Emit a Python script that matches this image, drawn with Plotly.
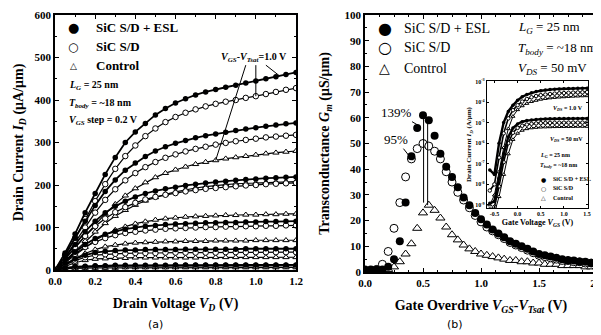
import plotly.graph_objects as go

# ---------------- Panel (a): Id - Vd ----------------
vd = [0.0, 0.05, 0.1, 0.15, 0.2, 0.25, 0.3, 0.35, 0.4, 0.45, 0.5, 0.55, 0.6,
      0.65, 0.7, 0.75, 0.8, 0.85, 0.9, 0.95, 1.0, 1.05, 1.1, 1.15, 1.2]

id_esl_10 = [0, 40, 85, 135, 180, 225, 265, 300, 325, 345, 365, 380, 393, 403, 412, 419, 425, 430, 435, 440, 445, 450, 455, 460, 465]
id_sic_10 = [0, 35, 75, 120, 162, 202, 238, 268, 293, 315, 333, 348, 360, 370, 378, 385, 391, 396, 400, 405, 409, 414, 419, 424, 428]
id_ctl_10 = [0, 25, 52, 80, 107, 132, 155, 175, 192, 206, 218, 228, 236, 243, 249, 254, 258, 262, 265, 268, 271, 274, 276, 278, 280]

id_esl_08 = [0, 35, 75, 115, 152, 185, 212, 235, 252, 267, 280, 290, 298, 305, 311, 316, 320, 324, 328, 332, 335, 338, 341, 344, 346]
id_sic_08 = [0, 30, 65, 100, 135, 165, 190, 211, 228, 242, 254, 264, 272, 279, 285, 290, 295, 299, 303, 306, 309, 312, 314, 316, 318]
id_ctl_08 = [0, 22, 45, 68, 90, 110, 127, 141, 153, 163, 171, 178, 184, 189, 193, 196, 199, 201, 203, 204, 205, 206, 207, 208, 208]

id_esl_06 = [0, 30, 60, 90, 115, 135, 150, 162, 172, 180, 186, 191, 195, 199, 202, 205, 207, 209, 211, 213, 214, 216, 217, 218, 219]
id_sic_06 = [0, 27, 54, 80, 103, 121, 136, 148, 158, 166, 172, 177, 181, 185, 188, 191, 193, 195, 197, 199, 200, 202, 203, 204, 205]
id_ctl_06 = [0, 18, 36, 54, 70, 83, 94, 102, 109, 114, 118, 121, 123, 125, 126, 127, 128, 129, 129, 130, 130, 131, 131, 132, 132]

id_esl_04 = [0, 22, 42, 60, 74, 84, 91, 96, 100, 103, 105, 107, 108, 109, 110, 111, 111, 112, 112, 113, 113, 114, 114, 115, 115]
id_sic_04 = [0, 20, 38, 54, 66, 75, 82, 87, 90, 93, 95, 97, 98, 99, 100, 101, 101, 102, 102, 103, 103, 104, 104, 105, 105]
id_ctl_04 = [0, 14, 27, 39, 48, 55, 59, 62, 64, 65, 66, 67, 67, 68, 68, 68, 69, 69, 69, 69, 70, 70, 70, 70, 70]

id_esl_02 = [0, 14, 26, 35, 41, 44, 46, 47, 47, 48, 48, 48, 48, 49, 49, 49, 49, 49, 49, 50, 50, 50, 50, 50, 50]
id_sic_02 = [0, 12, 22, 30, 35, 37, 38, 39, 40, 40, 40, 41, 41, 41, 41, 41, 41, 42, 42, 42, 42, 42, 42, 42, 42]
id_ctl_02 = [0, 9, 17, 23, 26, 27, 28, 28, 29, 29, 29, 29, 29, 29, 29, 30, 30, 30, 30, 30, 30, 30, 30, 30, 30]

id_esl_00 = [0, 5, 8, 9, 10, 10, 11, 11, 11, 11, 11, 11, 12, 12, 12, 12, 12, 12, 12, 12, 12, 12, 12, 12, 12]
id_sic_00 = [0, 4, 6, 7, 8, 8, 9, 9, 9, 9, 9, 9, 10, 10, 10, 10, 10, 10, 10, 10, 10, 10, 10, 10, 10]
id_ctl_00 = [0, 3, 4, 5, 5, 5, 5, 6, 6, 6, 6, 6, 6, 6, 6, 6, 6, 6, 6, 6, 6, 6, 6, 6, 6]

# ---------------- Panel (b): Gm ----------------
vov = [0.0, 0.05, 0.1, 0.15, 0.2, 0.25, 0.3, 0.35, 0.4, 0.45, 0.5, 0.55, 0.6, 0.65, 0.7,
       0.75, 0.8, 0.85, 0.9, 0.95, 1.0, 1.05, 1.1, 1.15, 1.2, 1.25, 1.3, 1.35, 1.4, 1.45,
       1.5, 1.55, 1.6, 1.65, 1.7, 1.75, 1.8, 1.85, 1.9, 1.95, 2.0]
gm_esl = [1, 1, 1, 1, 2, 5, 12, 27, 45, 56, 61, 59, 53, 46, 41, 37, 33, 29, 26, 23, 20.5,
          18.5, 16.5, 15, 13.5, 12, 11, 10, 9, 8, 7, 6.5, 6, 5.5, 5, 4.5, 4.5, 4, 4, 3.5, 3.5]
gm_sic = [0.5, 0.5, 1, 3, 8, 17, 27, 37, 44, 48, 50, 49, 47, 44, 39, 35, 31, 28, 25, 22, 19.5,
          17.5, 16, 14.5, 13, 11.5, 10.5, 9.5, 8.5, 7.5, 6.5, 6, 5.5, 5, 4.5, 4.5, 4, 4, 3.5, 3.5, 3]
gm_ctl = [0.5, 0.5, 0.5, 0.5, 1, 2, 4, 7, 11, 17, 23, 26, 24, 21, 17.5, 14.5, 12.5, 10.5, 9, 8, 7,
          6.5, 6, 5.5, 5, 4.5, 4.5, 4, 4, 3.5, 3.5, 3, 3, 3, 2.5, 2.5, 2.5, 2.5, 2, 2, 2]

# ---------------- Inset: Id - Vg (A/um) ----------------
vg = [-0.6, -0.5, -0.4, -0.3, -0.2, -0.1, 0.0, 0.1, 0.2, 0.3, 0.4, 0.5, 0.6, 0.7, 0.8,
      0.9, 1.0, 1.1, 1.2, 1.3, 1.4, 1.5]
ins_esl_hi = [5e-8, 3e-8, 1e-6, 1e-5, 3.5e-5, 7e-5, 1.2e-4, 1.8e-4, 2.3e-4, 2.8e-4, 3.2e-4,
              3.5e-4, 3.8e-4, 4.0e-4, 4.2e-4, 4.3e-4, 4.4e-4, 4.5e-4, 4.55e-4, 4.6e-4, 4.65e-4, 4.7e-4]
ins_sic_hi = [5e-9, 1e-8, 2e-7, 3e-6, 1.6e-5, 4e-5, 7e-5, 1.05e-4, 1.4e-4, 1.7e-4, 1.95e-4,
              2.15e-4, 2.3e-4, 2.45e-4, 2.55e-4, 2.65e-4, 2.72e-4, 2.8e-4, 2.86e-4, 2.92e-4, 2.96e-4, 3.0e-4]
ins_ctl_hi = [1e-9, 3e-9, 4e-8, 6e-7, 5e-6, 2e-5, 4.2e-5, 6.5e-5, 8.5e-5, 1.05e-4, 1.2e-4,
              1.35e-4, 1.47e-4, 1.57e-4, 1.65e-4, 1.72e-4, 1.78e-4, 1.84e-4, 1.89e-4, 1.93e-4, 1.97e-4, 2.0e-4]
ins_esl_lo = [1.2e-9, 1.5e-9, 2e-8, 3e-7, 2e-6, 5.5e-6, 8.5e-6, 1.1e-5, 1.25e-5, 1.35e-5, 1.42e-5,
              1.47e-5, 1.5e-5, 1.52e-5, 1.54e-5, 1.56e-5, 1.57e-5, 1.58e-5, 1.59e-5, 1.6e-5, 1.6e-5, 1.6e-5]
ins_sic_lo = [6e-10, 8e-10, 8e-9, 1.2e-7, 1e-6, 3.2e-6, 5.5e-6, 7e-6, 8e-6, 8.7e-6, 9.1e-6,
              9.4e-6, 9.6e-6, 9.7e-6, 9.8e-6, 9.85e-6, 9.9e-6, 9.95e-6, 1.0e-5, 1.0e-5, 1.0e-5, 1.0e-5]
ins_ctl_lo = [3e-10, 4e-10, 2.5e-9, 3e-8, 3e-7, 1.5e-6, 3e-6, 4.2e-6, 5e-6, 5.5e-6, 5.8e-6,
              6e-6, 6.1e-6, 6.2e-6, 6.3e-6, 6.35e-6, 6.4e-6, 6.4e-6, 6.45e-6, 6.5e-6, 6.5e-6, 6.5e-6]

series_names = ["SiC S/D + ESL", "SiC S/D", "Control"]
legend_glyphs = ["●", "○", "△"]
left_yticks = [0, 100, 200, 300, 400, 500, 600]
left_xticks = [0.0, 0.2, 0.4, 0.6, 0.8, 1.0, 1.2]
right_xticks = [0.0, 0.5, 1.0, 1.5, 2.0]
inset_xticks = [-0.5, 0.0, 0.5, 1.0, 1.5]
inset_yticks = [1e-9, 1e-8, 1e-7, 1e-6, 1e-5, 1e-4, 1e-3]
inset_yticktext = ["10<sup>-9</sup>", "10<sup>-8</sup>", "10<sup>-7</sup>", "10<sup>-6</sup>",
                   "10<sup>-5</sup>", "10<sup>-4</sup>", "10<sup>-3</sup>"]

SERIF = "Liberation Serif"
OFF = 8                      # default page margin of the html body
W, H = 601 - OFF, 335 - OFF  # figure size so that page == window


def px(x, y):
    """window pixel -> paper fraction"""
    return (x - OFF) / W, (H - (y - OFF)) / H


def dom_x(x0, x1):
    return [(x0 - OFF) / W, (x1 - OFF) / W]


def dom_y(ytop, ybot):
    return [(H - (ybot - OFF)) / H, (H - (ytop - OFF)) / H]


styles = {
    "esl": dict(symbol="circle", color="black", line=dict(width=0, color="black")),
    "sic": dict(symbol="circle", color="white", line=dict(width=1, color="black")),
    "ctl": dict(symbol="triangle-up", color="white", line=dict(width=1, color="black")),
}

fig = go.Figure()

left_sets = [
    (id_esl_10, id_sic_10, id_ctl_10), (id_esl_08, id_sic_08, id_ctl_08),
    (id_esl_06, id_sic_06, id_ctl_06), (id_esl_04, id_sic_04, id_ctl_04),
    (id_esl_02, id_sic_02, id_ctl_02), (id_esl_00, id_sic_00, id_ctl_00),
]
for esl, sic, ctl in left_sets:
    for key, ys in (("ctl", ctl), ("sic", sic), ("esl", esl)):
        fig.add_trace(go.Scatter(
            x=vd, y=ys, mode="lines+markers", xaxis="x", yaxis="y",
            line=dict(color="black", width=1.8 if key == "esl" else 1.2),
            marker=dict(size=5.5, **styles[key]), showlegend=False, hoverinfo="skip"))

for key, ys in (("ctl", gm_ctl), ("sic", gm_sic), ("esl", gm_esl)):
    fig.add_trace(go.Scatter(
        x=vov, y=ys, mode="markers", xaxis="x2", yaxis="y2",
        marker=dict(size=8, **styles[key]), showlegend=False, hoverinfo="skip"))

for key, ys, w in (("ctl", ins_ctl_hi, 1.0), ("sic", ins_sic_hi, 1.6), ("esl", ins_esl_hi, 2.4),
                   ("ctl", ins_ctl_lo, 1.0), ("sic", ins_sic_lo, 1.6), ("esl", ins_esl_lo, 2.4)):
    fig.add_trace(go.Scatter(
        x=vg, y=ys, mode="lines+markers", xaxis="x3", yaxis="y3",
        line=dict(color="black", width=w),
        marker=dict(size=3.5, **styles[key]), showlegend=False, hoverinfo="skip"))

axis_common = dict(showline=True, linecolor="black", linewidth=1.5, mirror="ticks",
                   ticks="inside", ticklen=4, tickwidth=1.2, tickcolor="black",
                   showgrid=False, zeroline=False, automargin=False, ticklabeloverflow="allow",
                   tickfont=dict(family=SERIF, size=11, color="black", weight="bold"))
title_font = dict(family=SERIF, size=14, color="black", weight="bold")
inset_common = dict(showline=True, linecolor="black", linewidth=1.2, mirror="ticks",
                    ticks="inside", ticklen=2, tickcolor="black", showgrid=False, zeroline=False,
                    automargin=False,
                    tickfont=dict(family=SERIF, size=6, color="black", weight="bold"))

fig.update_layout(
    width=W, height=H, autosize=False,
    margin=dict(l=0, r=0, t=0, b=0, pad=0, autoexpand=False),
    paper_bgcolor="#ffffff", plot_bgcolor="#fffffe",
    font=dict(family=SERIF, color="black"),
    showlegend=False,
    xaxis=dict(domain=dom_x(55, 296), range=[0, 1.2], tickvals=left_xticks,
               ticktext=["%.1f" % v for v in left_xticks], anchor="y",
               minor=dict(dtick=0.1, ticks="inside", ticklen=2, tickcolor="black"),
               title=dict(text="Drain Voltage <i>V<sub>D</sub></i> (V)", font=title_font, standoff=12),
               **axis_common),
    yaxis=dict(domain=dom_y(15, 270), range=[0, 600], tickvals=left_yticks, anchor="x",
               minor=dict(dtick=50, ticks="inside", ticklen=2, tickcolor="black"),
               title=dict(text="Drain Current <i>I<sub>D</sub></i> (μA/μm)", font=title_font, standoff=8),
               **axis_common),
    xaxis2=dict(domain=dom_x(365, 597), range=[0, 2], tickvals=right_xticks,
                ticktext=["%.1f" % v for v in right_xticks], anchor="y2",
                minor=dict(dtick=0.125, ticks="inside", ticklen=2, tickcolor="black"),
                title=dict(text="Gate Overdrive <i>V<sub>GS</sub></i>-<i>V<sub>Tsat</sub></i> (V)",
                           font=title_font, standoff=12),
                **axis_common),
    yaxis2=dict(domain=dom_y(15, 272), range=[0, 100], dtick=10, anchor="x2",
                minor=dict(dtick=5, ticks="inside", ticklen=2, tickcolor="black"),
                title=dict(text="Transconductance <i>G<sub>m</sub></i> (μS/μm)", font=title_font, standoff=12),
                **axis_common),
    xaxis3=dict(domain=dom_x(487, 588), range=[-0.66, 1.52], tickvals=inset_xticks,
                ticktext=["%.1f" % v for v in inset_xticks], anchor="y3",
                title=dict(text="Gate Voltage <i>V<sub>GS</sub></i> (V)", standoff=3,
                           font=dict(family=SERIF, size=8, color="black", weight="bold")),
                **inset_common),
    yaxis3=dict(domain=dom_y(81, 208), type="log", range=[-9.15, -2.98], anchor="x3",
                tickvals=inset_yticks, ticktext=inset_yticktext,
                title=dict(text="Drain Current <i>I<sub>D</sub></i> (A/μm)", standoff=2,
                           font=dict(family=SERIF, size=7, color="black", weight="bold")),
                **inset_common),
)

ann = []
# legend of panel (a)
for i, (g, name) in enumerate(zip(legend_glyphs, series_names)):
    yy = [27, 47, 66][i]
    gx, gy = px(73, yy)
    tx, ty = px(94, yy)
    ann.append(dict(x=gx, y=gy, xref="paper", yref="paper", text=g, showarrow=False,
                    xanchor="center", yanchor="middle",
                    font=dict(family="DejaVu Sans", size=[13, 12, 9][i], color="black")))
    ann.append(dict(x=tx, y=ty, xref="paper", yref="paper", text=name, showarrow=False,
                    xanchor="left", yanchor="middle",
                    font=dict(family=SERIF, size=13, color="black", weight="bold")))
# legend of panel (b)
for i, (g, name) in enumerate(zip(legend_glyphs, series_names)):
    yy = [28, 48, 68][i]
    gx, gy = px(385, yy)
    tx, ty = px(402, yy)
    ann.append(dict(x=gx, y=gy, xref="paper", yref="paper", text=g, showarrow=False,
                    xanchor="center", yanchor="middle",
                    font=dict(family="DejaVu Sans", size=[16, 16, 14][i], color="black")))
    ann.append(dict(x=tx, y=ty, xref="paper", yref="paper", text=name, showarrow=False,
                    xanchor="left", yanchor="middle",
                    font=dict(family=SERIF, size=14, color="black")))

txt10 = dict(family=SERIF, size=10, color="black", weight="bold")
ann += [
    dict(x=0.06, y=435, xref="x", yref="y", text="<i>L<sub>G</sub></i> = 25 nm", showarrow=False, xanchor="left", font=txt10),
    dict(x=0.06, y=391, xref="x", yref="y", text="<i>T<sub>body</sub></i> = ~18 nm", showarrow=False, xanchor="left", font=txt10),
    dict(x=0.06, y=351, xref="x", yref="y", text="<i>V<sub>GS</sub></i> step = 0.2 V", showarrow=False, xanchor="left", font=txt10),
    dict(x=0.99, y=500, xref="x", yref="y", text="<i>V<sub>GS</sub></i>-<i>V<sub>Tsat</sub></i>=1.0 V", showarrow=False, font=txt10),
]
txt13 = dict(family=SERIF, size=13, color="black")
ann += [
    dict(x=1.3, y=95, xref="x2", yref="y2", text="<i>L<sub>G</sub></i> = 25 nm", showarrow=False, xanchor="left", font=txt13),
    dict(x=1.3, y=87, xref="x2", yref="y2", text="<i>T<sub>body</sub></i> = ~18 nm", showarrow=False, xanchor="left", font=txt13),
    dict(x=1.3, y=79, xref="x2", yref="y2", text="<i>V<sub>DS</sub></i> = 50 mV", showarrow=False, xanchor="left", font=txt13),
    dict(x=0.48, y=56.5, ax=0.275, ay=62, xref="x2", yref="y2", axref="x2", ayref="y2",
         text="139%", showarrow=True, arrowhead=0, arrowwidth=1, arrowcolor="black", font=txt13),
    dict(x=0.41, y=43.5, ax=0.27, ay=51.5, xref="x2", yref="y2", axref="x2", ayref="y2",
         text="95%", showarrow=True, arrowhead=0, arrowwidth=1, arrowcolor="black", font=txt13),
]
tiny = dict(family=SERIF, size=6, color="black", weight="bold")
ann += [
    dict(x=1.45, y=-4.32, xref="x3", yref="y3", text="<i>V<sub>DS</sub></i> = 1.0 V", showarrow=False, xanchor="right", font=tiny),
    dict(x=1.45, y=-5.8, xref="x3", yref="y3", text="<i>V<sub>DS</sub></i> = 50 mV", showarrow=False, xanchor="right", font=tiny),
    dict(x=0.45, y=-6.6, xref="x3", yref="y3", text="<i>L<sub>G</sub></i> = 25 nm", showarrow=False, xanchor="left", font=tiny),
    dict(x=0.45, y=-7.1, xref="x3", yref="y3", text="<i>T<sub>body</sub></i> = ~18 nm", showarrow=False, xanchor="left", font=tiny),
]
for i, (g, name) in enumerate(zip(legend_glyphs, series_names)):
    yy = [-7.75, -8.2, -8.65][i]
    ann.append(dict(x=0.55, y=yy, xref="x3", yref="y3", text=g, showarrow=False,
                    font=dict(family="DejaVu Sans", size=6, color="black")))
    ann.append(dict(x=0.72, y=yy, xref="x3", yref="y3", text=name, showarrow=False, xanchor="left", font=tiny))
ax_, ay_ = px(155, 324)
bx_, by_ = px(455, 324)
ann += [
    dict(x=ax_, y=ay_, xref="paper", yref="paper", text="(a)", showarrow=False,
         xanchor="center", yanchor="middle", font=dict(family="DejaVu Sans", size=11, color="black")),
    dict(x=bx_, y=by_, xref="paper", yref="paper", text="(b)", showarrow=False,
         xanchor="center", yanchor="middle", font=dict(family="DejaVu Sans", size=11, color="black")),
]
fig.update_layout(annotations=ann)

shapes = [
    dict(type="line", xref="x", yref="y", x0=0.95, y0=482, x1=0.8, y1=258, line=dict(color="black", width=1)),
    dict(type="line", xref="x", yref="y", x0=1.0, y0=482, x1=1.0, y1=409, line=dict(color="black", width=1)),
    dict(type="line", xref="x", yref="y", x0=1.05, y0=482, x1=1.12, y1=456, line=dict(color="black", width=1)),
    dict(type="line", xref="x2", yref="y2", x0=0.505, y0=27, x1=0.505, y1=60, line=dict(color="black", width=1)),
    dict(type="line", xref="x2", yref="y2", x0=0.54, y0=26, x1=0.54, y1=60, line=dict(color="black", width=1)),
]
fig.update_layout(shapes=shapes)

fig.write_html("out.html")
